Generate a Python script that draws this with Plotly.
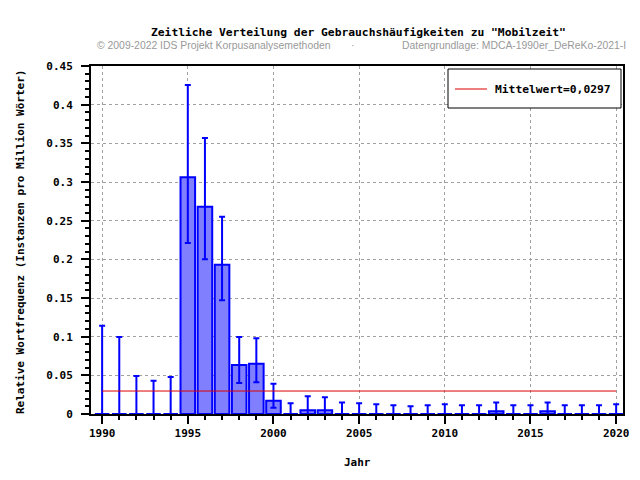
import plotly.graph_objects as go

years = list(range(1990, 2021))
values = [0, 0, 0, 0, 0, 0.306, 0.268, 0.193, 0.0634, 0.065, 0.017,
          0, 0.0048, 0.0048, 0, 0, 0, 0, 0, 0, 0,
          0, 0, 0.0035, 0, 0, 0.0035, 0, 0, 0, 0]
upper = [0.114, 0.0996, 0.049, 0.043, 0.048, 0.4255, 0.357, 0.255, 0.0996, 0.098, 0.039,
         0.0138, 0.0229, 0.0216, 0.015, 0.0138, 0.0125, 0.0112, 0.010, 0.0112, 0.0125,
         0.0112, 0.0112, 0.015, 0.0112, 0.0112, 0.015, 0.0112, 0.0112, 0.0112, 0.0125]
lower = [0, 0, 0, 0, 0, 0.221, 0.2, 0.147, 0.040, 0.041, 0.008,
         0, 0, 0, 0, 0, 0, 0, 0, 0, 0,
         0, 0, 0, 0, 0, 0, 0, 0, 0, 0]
mean_value = 0.0297
mean_label = "Mittelwert=0,0297"

title = 'Zeitliche Verteilung der Gebrauchshäufigkeiten zu "Mobilzeit"'
sub_left = "© 2009-2022 IDS Projekt Korpusanalysemethoden"
sub_mid = "·"
sub_right = "Datengrundlage: MDCA-1990er_DeReKo-2021-I"
x_title = "Jahr"
y_title = "Relative Wortfrequenz (Instanzen pro Million Wörter)"

mono = "DejaVu Sans Mono"

fig = go.Figure()
fig.add_trace(go.Bar(
    x=years, y=values, width=0.85,
    marker=dict(color="#8080ff", line=dict(color="#0000ff", width=2)),
    error_y=dict(type="data", symmetric=False,
                 array=[u - v for u, v in zip(upper, values)],
                 arrayminus=[v - l for v, l in zip(values, lower)],
                 color="#0000ff", thickness=2, width=3),
    showlegend=False,
))
fig.add_trace(go.Scatter(
    x=[years[0], years[-1]], y=[mean_value, mean_value], mode="lines",
    line=dict(color="#dd0000", width=1), name=mean_label, showlegend=False,
))

# page body has an 8px margin; work in page pixels and convert
OFF = 8
W, H = 624, 464
PL, PR, PT, PB = 91, 623, 66, 414  # plot area in page pixels
L = PL - OFF
T = PT - OFF
R = W - (PR - OFF)
B = H - (PB - OFF)
pw, ph = PR - PL, PB - PT

def px(x):
    return (x - PL) / pw

def py(y):
    return (PB - y) / ph

shapes = [
    dict(type="rect", xref="paper", yref="paper", x0=px(448), x1=px(621), y0=py(108), y1=py(69),
         line=dict(color="black", width=1), fillcolor="white", layer="above"),
    dict(type="line", xref="paper", yref="paper", x0=px(455), x1=px(487), y0=py(89), y1=py(89),
         line=dict(color="#dd0000", width=1), layer="above"),
]

fig.update_layout(
    width=W, height=H, margin=dict(l=L, r=R, t=T, b=B, autoexpand=False),
    paper_bgcolor="white", plot_bgcolor="white",
    font=dict(family=mono, size=11, color="black"),
    showlegend=False,
    shapes=shapes,
    xaxis=dict(range=[1989.35, 2020.4], tickvals=list(range(1990, 2021, 5)),
               ticks="outside", ticklen=8, tickwidth=2, tickcolor="black",
               minor=dict(dtick=1, tick0=1990, ticks="outside", ticklen=4, tickwidth=2, tickcolor="black", showgrid=False),
               showline=True, linecolor="black", linewidth=2, mirror=True,
               showgrid=True, gridcolor="#a0a0a0", griddash="dot", gridwidth=1,
               zeroline=False,
               tickfont=dict(family=mono, size=11, weight="bold")),
    yaxis=dict(range=[0, 0.45],
               tickvals=[0, 0.05, 0.1, 0.15, 0.2, 0.25, 0.3, 0.35, 0.4, 0.45],
               ticktext=["0", "0.05", "0.1", "0.15", "0.2", "0.25", "0.3", "0.35", "0.4", "0.45"],
               ticks="outside", ticklen=8, tickwidth=2, tickcolor="black",
               minor=dict(dtick=0.01, tick0=0, ticks="outside", ticklen=4, tickwidth=2, tickcolor="black", showgrid=False),
               showline=True, linecolor="black", linewidth=2, mirror=True,
               showgrid=True, gridcolor="#a0a0a0", griddash="dot", gridwidth=1,
               zeroline=False, ticklabelstandoff=6,
               tickfont=dict(family=mono, size=11, weight="bold")),
    annotations=[
        dict(text=title, x=px(358), y=py(33), xref="paper", yref="paper", showarrow=False,
             xanchor="center", yanchor="middle", font=dict(family=mono, size=11.3, weight="bold")),
        dict(text=sub_left, x=px(95), y=py(46), xref="paper", yref="paper", showarrow=False,
             xanchor="left", yanchor="middle", font=dict(family="Liberation Sans", size=10.4, color="#999999")),
        dict(text=sub_mid, x=px(352), y=py(46), xref="paper", yref="paper", showarrow=False,
             xanchor="center", yanchor="middle", font=dict(family="Liberation Sans", size=10.4, color="#999999")),
        dict(text=sub_right, x=px(628), y=py(46), xref="paper", yref="paper", showarrow=False,
             xanchor="right", yanchor="middle", font=dict(family="Liberation Sans", size=10.4, color="#999999")),
        dict(text=x_title, x=px(357), y=py(462), xref="paper", yref="paper", showarrow=False,
             xanchor="center", yanchor="middle", font=dict(family=mono, size=11, weight="bold")),
        dict(text=y_title, x=px(20), y=py(242), xref="paper", yref="paper", showarrow=False,
             textangle=-90, xanchor="center", yanchor="middle", font=dict(family=mono, size=11, weight="bold")),
        dict(text=mean_label, x=px(493), y=py(89), xref="paper", yref="paper", showarrow=False,
             xanchor="left", yanchor="middle", font=dict(family=mono, size=11.3, weight="bold")),
    ],
)

fig.write_html("out.html")
